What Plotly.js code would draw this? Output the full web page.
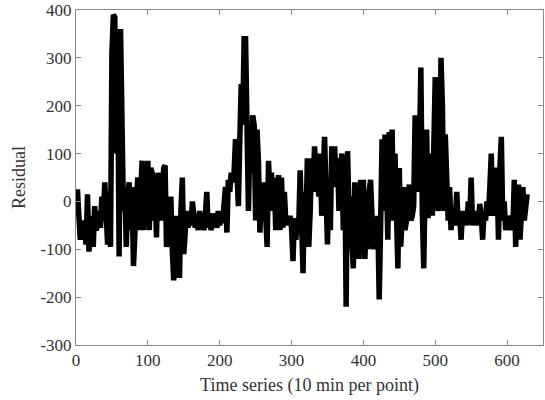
<!DOCTYPE html>
<html>
<head>
<meta charset="utf-8">
<script src="https://cdn.plot.ly/plotly-3.0.1.min.js"></script>
<style>html,body{margin:0;padding:0;background:#fff;}#chart{width:545px;height:400px;}</style>
</head>
<body>
<div id="chart"></div>
<script>
// Time step between points (in series index units)
const timeStep = 2;
// Residual values, one per time step
const residual = [
  -20, 25, -30, -80, -40, -70, -60, -90, 15, -105,
  -60, -30, -95, -10, -60, -50, -20, -55, 10, -40,
  40, -30, -90, 20, -95, 310, 390, 385, 100, 300,
  -115, 360, 170, -20, 20, -95, 10, 40, -60, 30,
  -135, -20, 0, 50, -60, 20, 85, -60, 30, -50,
  85, -60, 70, 60, -40, 30, -75, 60, -20, 55,
  -40, 70, 75, -95, -50, -20, 10, -100, -165, -30,
  -160, -30, -160, -20, 50, -110, -40, -20, -55, -30,
  -50, 0, -30, -55, -40, -60, -20, -50, -35, -60,
  -30, 20, -55, -40, -60, -25, -50, -35, -55, -20,
  -50, -30, -45, -10, 30, -65, 45, 20, 60, 40,
  60, 130, 80, -10, 130, 245, 160, 340, 340, 60,
  -20, 120, 60, 180, 160, -40, 150, 80, -65, 20,
  -30, 40, -60, -95, 85, 0, 60, -20, 50, -60,
  10, 55, -60, 50, -55, 20, -40, -30, -50, -30,
  -55, -125, -35, -80, -40, -50, 65, -80, -150, 20,
  -60, 90, -95, -20, 90, 20, 115, 70, 50, 10,
  100, -30, 70, 135, 20, -90, 40, -60, 115, 30,
  115, 30, 90, -20, 60, 100, -60, 95, -220, 105,
  -30, 10, -80, -140, 40, -100, -40, -120, 45, -30,
  45, -120, -60, -100, 20, 45, -30, -100, -50, -90,
  -30, -205, -50, 130, -20, 140, 60, -80, 145, 100,
  150, -40, 100, -80, -140, 70, -95, -30, 30, -60,
  -40, 10, 35, -40, -30, -10, 180, 20, 180, 100,
  280, -20, -140, 40, 150, -35, 20, 100, -30, 195,
  260, 100, -20, 40, 300, 200, -20, 140, 40, -40,
  30, -60, -20, -50, -30, 20, -50, -30, -80, -20,
  -40, -30, -50, 0, -40, 50, -50, -20, -40, -30,
  -50, -5, -30, -80, -20, -40, 0, -30, 30, 100,
  -30, 20, 70, 60, -80, 70, 135, -40, 0, -60,
  -40, -60, -30, -40, -60, 45, -95, 10, 35, -80,
  -40, 30, -40, 10, 15
];
const xTicks = [0, 100, 200, 300, 400, 500, 600];
const yTicks = [-300, -200, -100, 0, 100, 200, 300, 400];
const xTitle = "Time series (10 min per point)";
const yTitle = "Residual";

const timeIndex = residual.map((_, i) => i * timeStep);

const tickFont = {family: "Liberation Serif, DejaVu Serif, serif", size: 17, color: "#333"};
const titleFont = {family: "Liberation Serif, DejaVu Serif, serif", size: 18, color: "#333"};

Plotly.newPlot("chart", [{
  x: timeIndex,
  y: residual,
  type: "scatter",
  mode: "lines",
  line: {color: "#000", width: 5.5},
  hoverinfo: "skip"
}], {
  width: 545,
  height: 400,
  margin: {l: 76, r: 2, t: 10, b: 55},
  paper_bgcolor: "#fff",
  plot_bgcolor: "#fff",
  showlegend: false,
  font: tickFont,
  xaxis: {
    range: [0, 650],
    tickvals: xTicks,
    ticktext: xTicks.map(String),
    ticks: "inside",
    ticklen: 5,
    tickcolor: "#888",
    showline: true,
    linecolor: "#888",
    linewidth: 1,
    mirror: "ticks",
    showgrid: false,
    zeroline: false,
    tickfont: tickFont,
    title: {text: xTitle, font: titleFont, standoff: 8}
  },
  yaxis: {
    range: [-300, 400],
    tickvals: yTicks,
    ticktext: yTicks.map(String),
    ticks: "inside",
    ticklen: 5,
    tickcolor: "#888",
    showline: true,
    linecolor: "#888",
    linewidth: 1,
    mirror: "ticks",
    showgrid: false,
    zeroline: false,
    tickfont: tickFont,
    title: {text: yTitle, font: titleFont, standoff: 10}
  }
}, {staticPlot: true, displayModeBar: false});
</script>
</body>
</html>
